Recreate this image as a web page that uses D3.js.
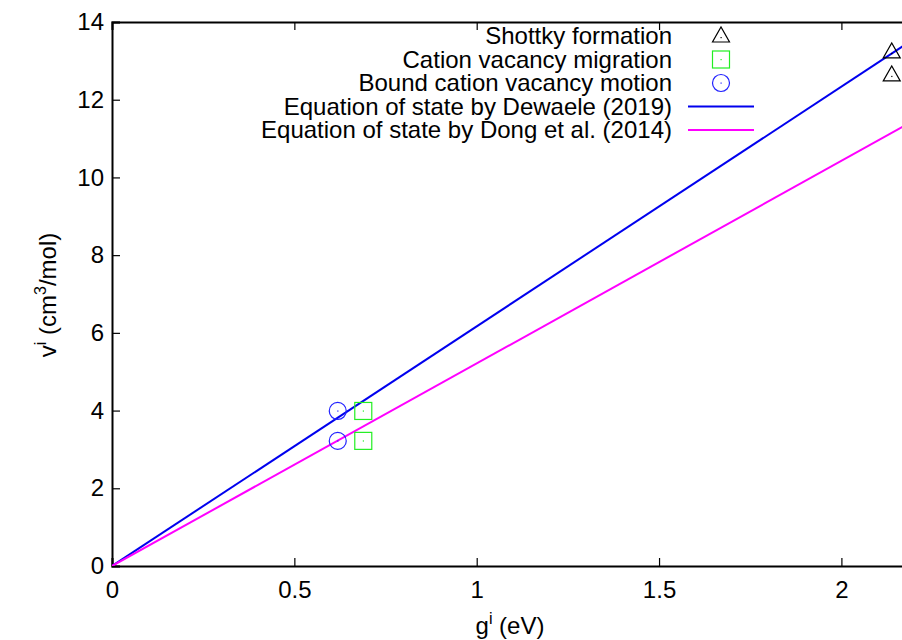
<!DOCTYPE html>
<html>
<head>
<meta charset="utf-8">
<script src="https://cdn.jsdelivr.net/npm/d3@7"></script>
<style>
body { margin: 0; background: #fff; }
text { font-family: "Liberation Sans", Arial, sans-serif; }
</style>
</head>
<body>
<div id="chart"></div>
<script>
// data
var x_ticks = [0, 0.5, 1, 1.5, 2]
var y_ticks = [0, 2, 4, 6, 8, 10, 12, 14]

var shottky_g = [2.138, 2.138]
var shottky_v = [13.23, 12.64]
var migration_g = [0.689, 0.689]
var migration_v = [3.99, 3.22]
var bound_g = [0.619, 0.619]
var bound_v = [3.99, 3.22]

var dewaele_g = [0, 2.2]
var dewaele_v = [0, 13.57]
var dong_g = [0, 2.2]
var dong_v = [0, 11.47]

var legend_labels = [
    "Shottky formation",
    "Cation vacancy migration",
    "Bound cation vacancy motion",
    "Equation of state by Dewaele (2019)",
    "Equation of state by Dong et al. (2014)"
]

var width = 902, height = 640
var margin = { top: 22, left: 112 }
var plot_h = 544
var x = d3.scaleLinear().domain([0, 2.2]).range([margin.left, margin.left + 2.2 * 364.7])
var y = d3.scaleLinear().domain([0, 14]).range([margin.top + plot_h, margin.top])

var svg = d3.select("#chart").append("svg")
    .attr("width", width)
    .attr("height", height)

svg.append("defs").append("clipPath").attr("id", "plot_clip")
    .append("rect")
    .attr("x", x(0)).attr("y", y(14))
    .attr("width", x(2.2) - x(0)).attr("height", plot_h)

// axes with inward ticks, gnuplot style
var font_size = "24px"
var sup_size = "16px"
svg.append("g")
    .attr("transform", `translate(0, ${y(0)})`)
    .call(d3.axisBottom(x).tickValues(x_ticks).tickSize(-8).tickPadding(15).tickFormat(d3.format("")))
svg.append("g")
    .attr("transform", `translate(0, ${y(14)})`)
    .call(d3.axisTop(x).tickValues(x_ticks.slice(1)).tickSize(-8).tickFormat(""))
svg.append("g")
    .attr("transform", `translate(${x(0)}, 0)`)
    .call(d3.axisLeft(y).tickValues(y_ticks).tickSize(-8).tickPadding(8))

svg.selectAll(".domain").attr("stroke", "#000").attr("stroke-width", 2)
svg.selectAll(".tick line").attr("stroke", "#000").attr("stroke-width", 1.2)
svg.selectAll(".tick text").attr("font-size", font_size).attr("fill", "#000")
    .attr("font-family", "Liberation Sans, Arial, sans-serif")

// axis labels
svg.append("text")
    .attr("x", 510).attr("y", 634)
    .attr("text-anchor", "middle")
    .attr("font-size", font_size)
    .html(`g<tspan dy='-10' font-size='${sup_size}'>i</tspan><tspan dy='10'> (eV)</tspan>`)

svg.append("text")
    .attr("transform", "translate(56, 295) rotate(-90)")
    .attr("text-anchor", "middle")
    .attr("font-size", font_size)
    .html(`v<tspan dy='-10' font-size='${sup_size}'>i</tspan><tspan dy='10'> (cm</tspan><tspan dy='-10' font-size='${sup_size}'>3</tspan><tspan dy='10'>/mol)</tspan>`)

// lines
var line = d3.line().x(function (d) { return x(d[0]) }).y(function (d) { return y(d[1]) })
var plot_g = svg.append("g").attr("clip-path", "url(#plot_clip)")
plot_g.append("path")
    .datum(dewaele_g.map(function (d, i) { return [d, dewaele_v[i]] }))
    .attr("d", line).attr("fill", "none").attr("stroke", "#0000ee").attr("stroke-width", 2)
plot_g.append("path")
    .datum(dong_g.map(function (d, i) { return [d, dong_v[i]] }))
    .attr("d", line).attr("fill", "none").attr("stroke", "#ff00ff").attr("stroke-width", 2)

// marker drawing
function draw_marker(g, kind, cx, cy) {
    if (kind == "triangle") {
        g.append("path")
            .attr("d", `M${cx - 8.5},${cy + 6} L${cx + 8.5},${cy + 6} L${cx},${cy - 9} Z`)
            .attr("fill", "none").attr("stroke", "#000").attr("stroke-width", 1.2)
        g.append("rect").attr("x", cx - 0.5).attr("y", cy + 1).attr("width", 1.2).attr("height", 1.2).attr("fill", "#000")
    } else if (kind == "square") {
        g.append("rect")
            .attr("x", cx - 8.5).attr("y", cy - 8.5).attr("width", 17).attr("height", 17)
            .attr("fill", "none").attr("stroke", "#22ee22").attr("stroke-width", 1.2)
        g.append("rect").attr("x", cx - 0.5).attr("y", cy - 0.5).attr("width", 1.2).attr("height", 1.2).attr("fill", "#22ee22")
    } else {
        g.append("circle")
            .attr("cx", cx).attr("cy", cy).attr("r", 8.5)
            .attr("fill", "none").attr("stroke", "#2222ff").attr("stroke-width", 1.2)
        g.append("rect").attr("x", cx - 0.5).attr("y", cy - 0.5).attr("width", 1.2).attr("height", 1.2).attr("fill", "#2222ff")
    }
}

var marker_g = svg.append("g")
shottky_g.forEach(function (d, i) { draw_marker(marker_g, "triangle", x(d), y(shottky_v[i])) })
migration_g.forEach(function (d, i) { draw_marker(marker_g, "square", x(d), y(migration_v[i])) })
bound_g.forEach(function (d, i) { draw_marker(marker_g, "circle", x(d), y(bound_v[i])) })

// legend
var legend_kinds = ["triangle", "square", "circle", "#0000ee", "#ff00ff"]
var legend_g = svg.append("g")
legend_labels.forEach(function (label, i) {
    var row_y = 36 + i * 23.5
    legend_g.append("text")
        .attr("x", 672).attr("y", row_y + 8)
        .attr("text-anchor", "end")
        .attr("font-size", font_size)
        .text(label)
    if (i < 3) {
        draw_marker(legend_g, legend_kinds[i], 721, row_y)
    } else {
        legend_g.append("line")
            .attr("x1", 688).attr("x2", 754).attr("y1", row_y).attr("y2", row_y)
            .attr("stroke", legend_kinds[i]).attr("stroke-width", 2)
    }
})
</script>
</body>
</html>
